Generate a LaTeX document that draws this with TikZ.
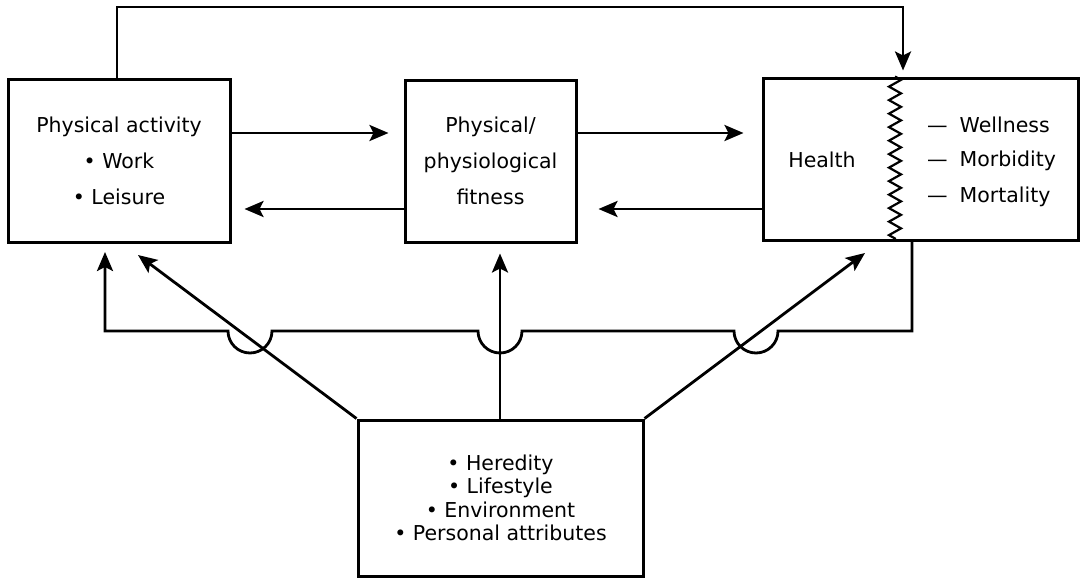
\documentclass[tikz,border=0pt]{standalone}
\usepackage{fontspec}
\setmainfont{DejaVu Sans}
\usetikzlibrary{arrows.meta,decorations.pathmorphing}
\begin{document}
\begin{tikzpicture}[x=1pt,y=-1pt,
  box/.style={draw,line width=3pt,inner sep=0pt,align=center},
  lbl/.style={font=\fontsize{20.5}{36}\selectfont},
  link/.style={line width=2.8pt,line join=miter},
  arr/.style={link,-{Stealth[length=19pt,width=16pt,inset=4pt]}}]
\useasboundingbox (0,0) rectangle (1083,578);
% boxes
\node[box,lbl,minimum width=222pt,minimum height=163pt] (pa) at (119,161)
  {Physical activity\\ \textbullet\ Work\\ \textbullet\ Leisure};
\node[box,lbl,minimum width=171pt,minimum height=162pt] (fit) at (490.5,161)
  {Physical/\\physiological\\fitness};
\node[box,minimum width=315pt,minimum height=162pt] (health) at (920.5,159) {};
\node[box,minimum width=285pt,minimum height=156pt,
  font=\fontsize{20.5}{23.5}\selectfont] (det) at (500.5,498)
  {\textbullet\ Heredity\\ \textbullet\ Lifestyle\\ \textbullet\ Environment\\ \textbullet\ Personal attributes};
% contents of the health box
\node[lbl] (hl) at (822,160) {Health};
\node[lbl,anchor=west,inner sep=0pt] (w1) at (927,125) {—\hspace{12pt}Wellness};
\node[lbl,anchor=west,inner sep=0pt] (w2) at (927,161) {—\hspace{12pt}Morbidity};
\node[lbl,anchor=west,inner sep=0pt] (w3) at (927,197) {—\hspace{12pt}Mortality};
\draw[link,line width=2.2pt,decorate,decoration={zigzag,amplitude=6pt,segment length=13.5pt}]
  (health.north -| 895,0) -- (health.south -| 895,0);
% feedback over the top
\draw[arr,shorten >=6pt] (pa.north -| 117,0) -- (117,7) -- (903,7) -- (health.north -| 903,0);
% arrows between the boxes
\draw[arr,shorten >=15pt] (pa.east |- 0,133) -- (fit.west |- 0,133);
\draw[arr,shorten >=18pt] (fit.east |- 0,133) -- (health.west |- 0,133);
\draw[arr,shorten >=13pt] (fit.west |- 0,209) -- (pa.east |- 0,209);
\draw[arr,shorten >=21pt] (health.west |- 0,209) -- (fit.east |- 0,209);
% return line from health with hops
\draw[arr,shorten >=8pt] (health.south -| 912,0) -- (912,331) -- (778,331)
  arc (0:180:22) -- (522,331) arc (0:180:22) -- (272,331) arc (0:180:22)
  -- (105,331) -- (pa.south -| 105,0);
% determinants
\coordinate (ltip) at (138,255);
\coordinate (rtip) at (865,253);
\draw[arr] (det.north west) -- (ltip);
\draw[arr,shorten >=10pt] (det.north -| 500,0) -- (fit.south -| 500,0);
\draw[arr] (det.north east) -- (rtip);
\end{tikzpicture}
\end{document}
